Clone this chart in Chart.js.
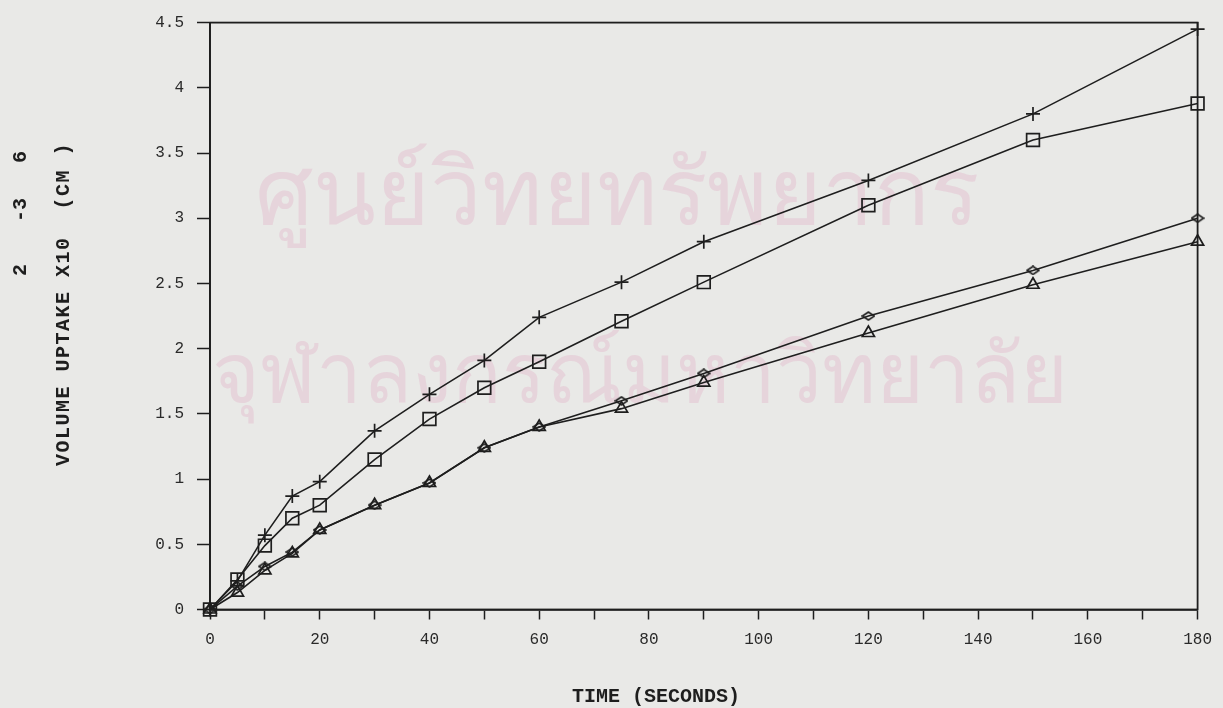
<!DOCTYPE html>
<html>
<head>
<meta charset="utf-8">
<script src="https://cdn.jsdelivr.net/npm/chart.js@4"></script>
<style>
  body { margin: 0; background: #e9e9e7; }
  #wrap { position: relative; width: 1223px; height: 708px; overflow: hidden; }
  .wm { position: absolute; color: rgba(225, 170, 195, 0.33); font-family: "Noto Sans", "DejaVu Sans", sans-serif; white-space: nowrap; }
  canvas { position: absolute; left: 0; top: 0; }
</style>
</head>
<body>
<div id="wrap">
  <div class="wm" style="left:255px; top:118px; font-size:92px;">ศูนย์วิทยทรัพยากร</div>
  <div class="wm" style="left:212px; top:308px; font-size:82px;">จุฬาลงกรณ์มหาวิทยาลัย</div>
  <canvas id="uptakeChart" width="1223" height="708"></canvas>
</div>
<script>
const ink = '#1e1e1e';

// -------------------- Data --------------------
const timeSec = [0, 5, 10, 15, 20, 30, 40, 50, 60, 75, 90, 120, 150, 180];
const plusSeries     = [0, 0.22, 0.57, 0.87, 0.98, 1.37, 1.65, 1.91, 2.24, 2.51, 2.82, 3.29, 3.80, 4.45];
const squareSeries   = [0, 0.23, 0.49, 0.70, 0.80, 1.15, 1.46, 1.70, 1.90, 2.21, 2.51, 3.10, 3.60, 3.88];
const diamondSeries  = [0, 0.18, 0.33, 0.44, 0.61, 0.80, 0.97, 1.24, 1.40, 1.60, 1.81, 2.25, 2.60, 3.00];
const triangleSeries = [0, 0.13, 0.30, 0.43, 0.61, 0.80, 0.97, 1.24, 1.40, 1.54, 1.74, 2.12, 2.49, 2.82];
const xTickLabels = [0, 20, 40, 60, 80, 100, 120, 140, 160, 180];
const yTickLabels = ['0', '0.5', '1', '1.5', '2', '2.5', '3', '3.5', '4', '4.5'];

const xTitle = 'TIME (SECONDS)';
const yTitle = 'VOLUME UPTAKE X10  (CM )';
const ySupers = [['2', 270], ['-3', 210], ['6', 157]];

// -------------------- Marker helper (flat diamond) --------------------
function makeDiamond() {
  const c = document.createElement('canvas');
  c.width = 14; c.height = 10;
  const g = c.getContext('2d');
  g.strokeStyle = ink; g.lineWidth = 1.6;
  g.beginPath();
  g.moveTo(1, 5); g.lineTo(7, 1); g.lineTo(13, 5); g.lineTo(7, 9); g.closePath();
  g.stroke();
  return c;
}

function toPoints(vals) {
  return timeSec.map((t, i) => ({ x: t, y: vals[i] }));
}

function series(vals, style, radius) {
  return {
    data: toPoints(vals),
    borderColor: ink,
    borderWidth: 1.6,
    pointStyle: style,
    pointRadius: radius,
    pointBorderColor: ink,
    pointBorderWidth: 1.7,
    pointBackgroundColor: 'rgba(0,0,0,0)',
    tension: 0,
    clip: false
  };
}

// -------------------- Frame + titles plugin --------------------
const framePlugin = {
  id: 'frame',
  beforeDatasetsDraw(chart) {
    const { ctx, chartArea: a } = chart;
    ctx.save();
    ctx.strokeStyle = ink;
    ctx.lineWidth = 1.8;
    ctx.strokeRect(a.left, a.top, a.right - a.left, a.bottom - a.top);
    ctx.restore();
  },
  afterDraw(chart) {
    const ctx = chart.ctx;
    ctx.save();
    ctx.fillStyle = ink;
    ctx.font = 'bold 20px "Liberation Mono", monospace';
    ctx.textAlign = 'center';
    ctx.textBaseline = 'alphabetic';
    ctx.fillText(xTitle, 656, 702);

    // rotated y title
    ctx.save();
    ctx.translate(64, 304);
    ctx.rotate(-Math.PI / 2);
    ctx.letterSpacing = '1.5px';
    ctx.textBaseline = 'middle';
    ctx.fillText(yTitle, 0, 0);
    ctx.restore();

    // superscripts in their own column
    ySupers.forEach(([txt, y]) => {
      ctx.save();
      ctx.translate(21, y);
      ctx.rotate(-Math.PI / 2);
      ctx.textBaseline = 'middle';
      ctx.fillText(txt, 0, 0);
      ctx.restore();
    });
    ctx.restore();
  }
};

// -------------------- Chart --------------------
const ctx = document.getElementById('uptakeChart').getContext('2d');
new Chart(ctx, {
  type: 'line',
  data: {
    datasets: [
      series(plusSeries, 'cross', 7),
      series(squareSeries, 'rect', 9),
      series(diamondSeries, makeDiamond(), 5),
      series(triangleSeries, 'triangle', 7)
    ]
  },
  options: {
    responsive: false,
    animation: false,
    layout: { padding: { top: 19, right: 23, left: 0, bottom: 0 } },
    plugins: {
      legend: { display: false },
      tooltip: { enabled: false }
    },
    scales: {
      x: {
        type: 'linear',
        min: 0,
        max: 180,
        afterFit: (s) => { s.height = 98.5; },
        afterBuildTicks: (s) => {
          s.ticks = [];
          for (let v = 0; v <= 180; v += 10) s.ticks.push({ value: v });
        },
        ticks: {
          autoSkip: false,
          maxRotation: 0,
          padding: 11,
          color: '#2a2a2a',
          font: { family: '"Liberation Mono", monospace', size: 16 },
          callback: (v) => xTickLabels.includes(v) ? String(v) : ''
        },
        grid: { drawOnChartArea: false, tickLength: 10, tickColor: ink, tickWidth: 1.5 },
        border: { color: ink, width: 1.8 }
      },
      y: {
        type: 'linear',
        min: 0,
        max: 4.5,
        afterFit: (s) => { s.width = 210; },
        afterBuildTicks: (s) => {
          s.ticks = yTickLabels.map(t => ({ value: parseFloat(t) }));
        },
        ticks: {
          padding: 13,
          color: '#2a2a2a',
          font: { family: '"Liberation Mono", monospace', size: 16 },
          callback: (v) => yTickLabels.find(t => parseFloat(t) === v) || ''
        },
        grid: { drawOnChartArea: false, tickLength: 13, tickColor: ink, tickWidth: 1.5 },
        border: { color: ink, width: 1.8 }
      }
    }
  },
  plugins: [framePlugin]
});
</script>
</body>
</html>
